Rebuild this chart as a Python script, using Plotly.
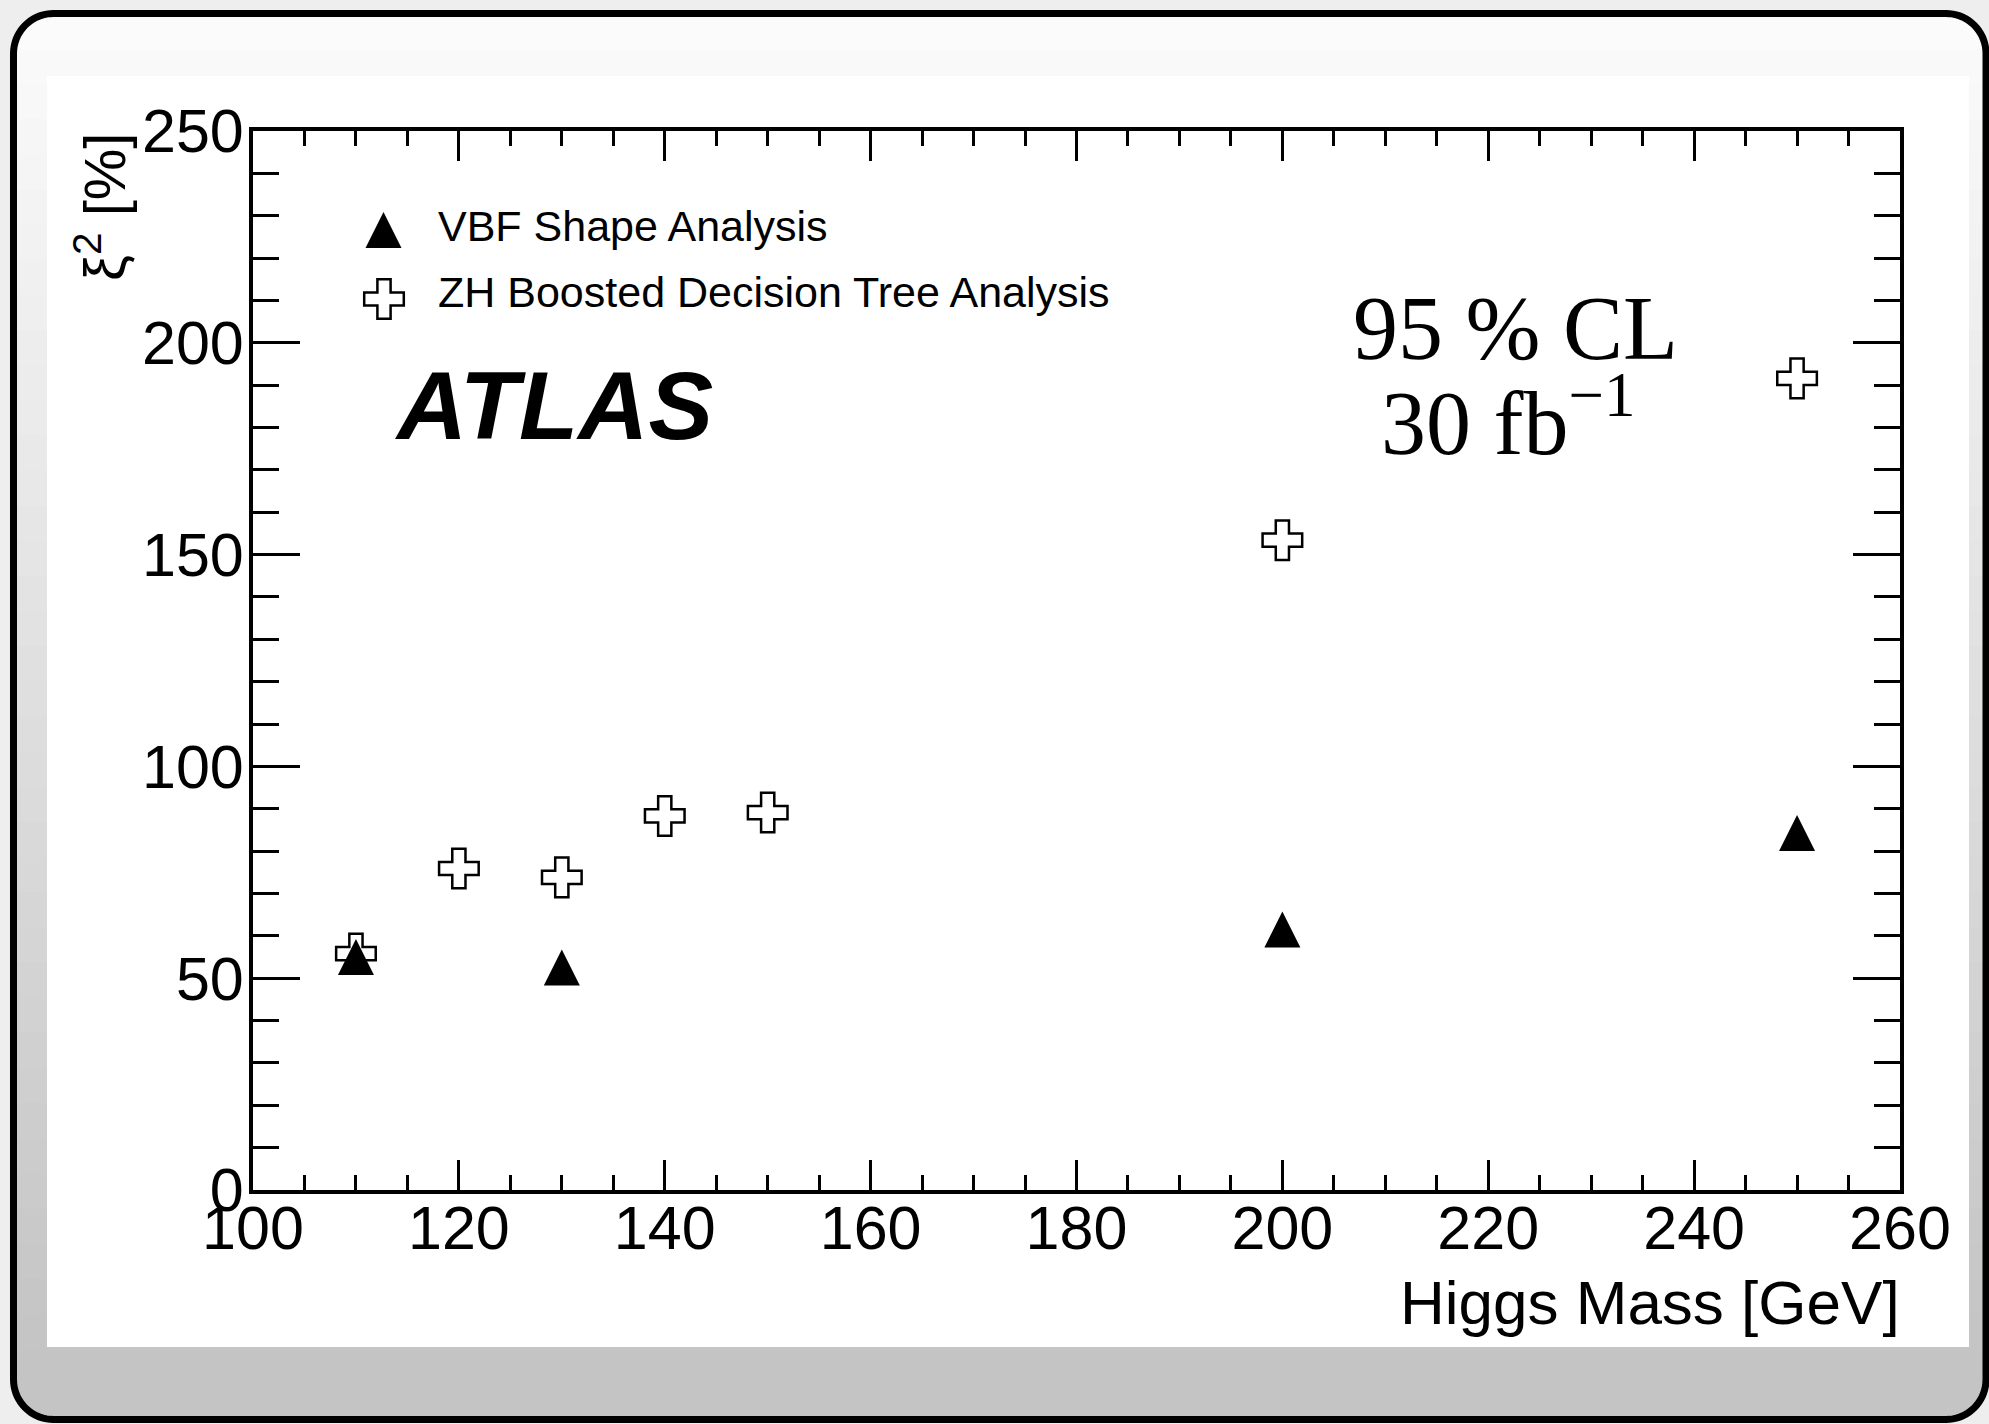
import math
import plotly.graph_objects as go

# ---------------- data ----------------
vbf_mass = [110, 130, 200, 250]
vbf_xi2 = [55.0, 52.5, 61.5, 84.3]

zh_mass = [110, 120, 130, 140, 150, 200, 250]
zh_xi2 = [55.8, 75.9, 73.8, 88.3, 89.1, 153.4, 191.6]

x_tick_vals = [100, 120, 140, 160, 180, 200, 220, 240, 260]
y_tick_vals = [0, 50, 100, 150, 200, 250]

legend_labels = ["VBF Shape Analysis", "ZH Boosted Decision Tree Analysis"]
x_title = "Higgs Mass [GeV]"
y_title = "ξ<sup>2</sup> [%]"

# ---------------- layout geometry (pixels) ----------------
W, H = 1989, 1424
L, R, T, B = 253, 89, 131, 234
PX0, PX1 = L, W - R
PY0, PY1 = T, H - B


def fx(px):
    return (px - PX0) / (PX1 - PX0)


def fy(py):
    return (PY1 - py) / (PY1 - PY0)


def rr_bounds(y, x0, y0, x1, y1, r):
    if y < y0 + r:
        dy = y0 + r - y
    elif y > y1 - r:
        dy = y - (y1 - r)
    else:
        dy = 0.0
    dy = min(dy, r)
    off = r - math.sqrt(max(r * r - dy * dy, 0.0))
    return x0 + off, x1 - off


def path_from_points(pts):
    s = "M" + " L".join(f"{fx(px):.5f},{fy(py):.5f}" for px, py in pts)
    return s + " Z"


def rounded_rect_points(x0, y0, x1, y1, r, n=18):
    pts = []
    corners = [
        (x1 - r, y0 + r, -90, 0),
        (x1 - r, y1 - r, 0, 90),
        (x0 + r, y1 - r, 90, 180),
        (x0 + r, y0 + r, 180, 270),
    ]
    for cx, cy, a0, a1 in corners:
        for i in range(n + 1):
            a = math.radians(a0 + (a1 - a0) * i / n)
            pts.append((cx + r * math.cos(a), cy + r * math.sin(a)))
    return pts


shapes = []
# gradient background inside the rounded frame
BX0, BY0, BX1, BY1, BR = 13.5, 13.5, 1986.0, 1419.5, 40
nb = 40
for i in range(nb):
    ya = BY0 + (BY1 - BY0) * i / nb
    yb = BY0 + (BY1 - BY0) * (i + 1) / nb + 0.8
    yb = min(yb, BY1)
    ym = (ya + yb) / 2
    g = 251 - 55 * (ym - 20) / 1330
    g = int(round(max(196, min(251, g))))
    ys = [ya + (yb - ya) * k / 6 for k in range(7)]
    left = [(rr_bounds(y, BX0, BY0, BX1, BY1, BR)[0], y) for y in ys]
    right = [(rr_bounds(y, BX0, BY0, BX1, BY1, BR)[1], y) for y in reversed(ys)]
    shapes.append(dict(type="path", xref="paper", yref="paper", layer="below",
                       path=path_from_points(left + right),
                       fillcolor=f"rgb({g},{g},{g})", line=dict(width=0)))

# white picture area
shapes.append(dict(type="rect", xref="paper", yref="paper", layer="below",
                   x0=fx(47), x1=fx(1969), y0=fy(1347), y1=fy(76),
                   fillcolor="white", line=dict(width=0)))

# black rounded frame
shapes.append(dict(type="path", xref="paper", yref="paper", layer="below",
                   path=path_from_points(rounded_rect_points(BX0, BY0, BX1, BY1, BR)),
                   fillcolor="rgba(0,0,0,0)", line=dict(color="black", width=7)))

fig = go.Figure()

TRI = dict(symbol="arrow-down", angle=180, standoff=18, size=36, color="black",
           line=dict(width=0))
CROSS = dict(symbol="cross-open", size=33, color="black",
             line=dict(width=2.5, color="black"))

fig.add_trace(go.Scatter(x=vbf_mass, y=vbf_xi2, mode="markers", name=legend_labels[0],
                         marker=TRI, showlegend=False, cliponaxis=False))
fig.add_trace(go.Scatter(x=zh_mass, y=zh_xi2, mode="markers", name=legend_labels[1],
                         marker=CROSS, showlegend=False, cliponaxis=False))

# legend samples in a hidden pixel-unit overlay
fig.add_trace(go.Scatter(x=[383.5], y=[230], xaxis="x2", yaxis="y2", mode="markers",
                         marker=TRI, showlegend=False, hoverinfo="skip"))
fig.add_trace(go.Scatter(x=[384], y=[299], xaxis="x2", yaxis="y2", mode="markers",
                         marker=CROSS, showlegend=False, hoverinfo="skip"))

SANS = "Liberation Sans, Arial, Helvetica, sans-serif"
SERIF = "Liberation Serif, Times New Roman, serif"

annotations = [
    dict(text=legend_labels[0], x=436, y=226, xanchor="left", yanchor="middle",
         font=dict(family=SANS, size=43, color="black")),
    dict(text=legend_labels[1], x=436, y=292, xanchor="left", yanchor="middle",
         font=dict(family=SANS, size=43, color="black")),
    dict(text="<b><i>ATLAS</i></b>", x=393, y=405, xanchor="left", yanchor="middle",
         font=dict(family=SANS, size=97, color="black")),
    dict(text="95 % CL", x=1515, y=328, xanchor="center", yanchor="middle",
         font=dict(family=SERIF, size=90, color="black")),
    dict(text="30 fb<sup>−1</sup>", x=1508, y=416, xanchor="center", yanchor="middle",
         font=dict(family=SERIF, size=90, color="black")),
]
for a in annotations:
    a.update(xref="x2", yref="y2", showarrow=False)

# axis titles (outside the plot area) in paper coordinates
annotations.append(dict(text=x_title, x=fx(1902), y=fy(1302), xref="paper", yref="paper",
                        xanchor="right", yanchor="middle", showarrow=False,
                        font=dict(family=SANS, size=62, color="black")))
annotations.append(dict(text=y_title, x=fx(100), y=fy(207), xref="paper", yref="paper",
                        xanchor="center", yanchor="middle", textangle=-90, showarrow=False,
                        font=dict(family=SANS, size=58, color="black")))

fig.update_layout(
    width=W, height=H,
    margin=dict(l=L, r=R, t=T, b=B, pad=0),
    paper_bgcolor="#eeeeee",
    plot_bgcolor="white",
    showlegend=False,
    shapes=shapes,
    annotations=annotations,
    xaxis=dict(range=[100, 260], tickvals=x_tick_vals, ticktext=[str(v) for v in x_tick_vals],
               ticks="inside", ticklen=30, tickwidth=3, tickcolor="black",
               showline=True, linewidth=4, linecolor="black", mirror="ticks",
               showgrid=False, zeroline=False, ticklabelstandoff=-18,
               tickfont=dict(family=SANS, size=61, color="black"),
               minor=dict(dtick=5, tick0=100, ticks="inside", ticklen=15, tickwidth=3,
                          tickcolor="black", showgrid=False)),
    yaxis=dict(range=[0, 250], tickvals=y_tick_vals, ticktext=[str(v) for v in y_tick_vals],
               ticks="inside", ticklen=47, tickwidth=3, tickcolor="black",
               showline=True, linewidth=4, linecolor="black", mirror="ticks",
               showgrid=False, zeroline=False, ticklabelstandoff=-7,
               tickfont=dict(family=SANS, size=61, color="black"),
               minor=dict(dtick=10, tick0=0, ticks="inside", ticklen=26, tickwidth=3,
                          tickcolor="black", showgrid=False)),
    xaxis2=dict(range=[PX0, PX1], overlaying="x", anchor="y2", visible=False),
    yaxis2=dict(range=[PY1, PY0], overlaying="y", anchor="x2", visible=False),
)

fig.write_html("out.html")
